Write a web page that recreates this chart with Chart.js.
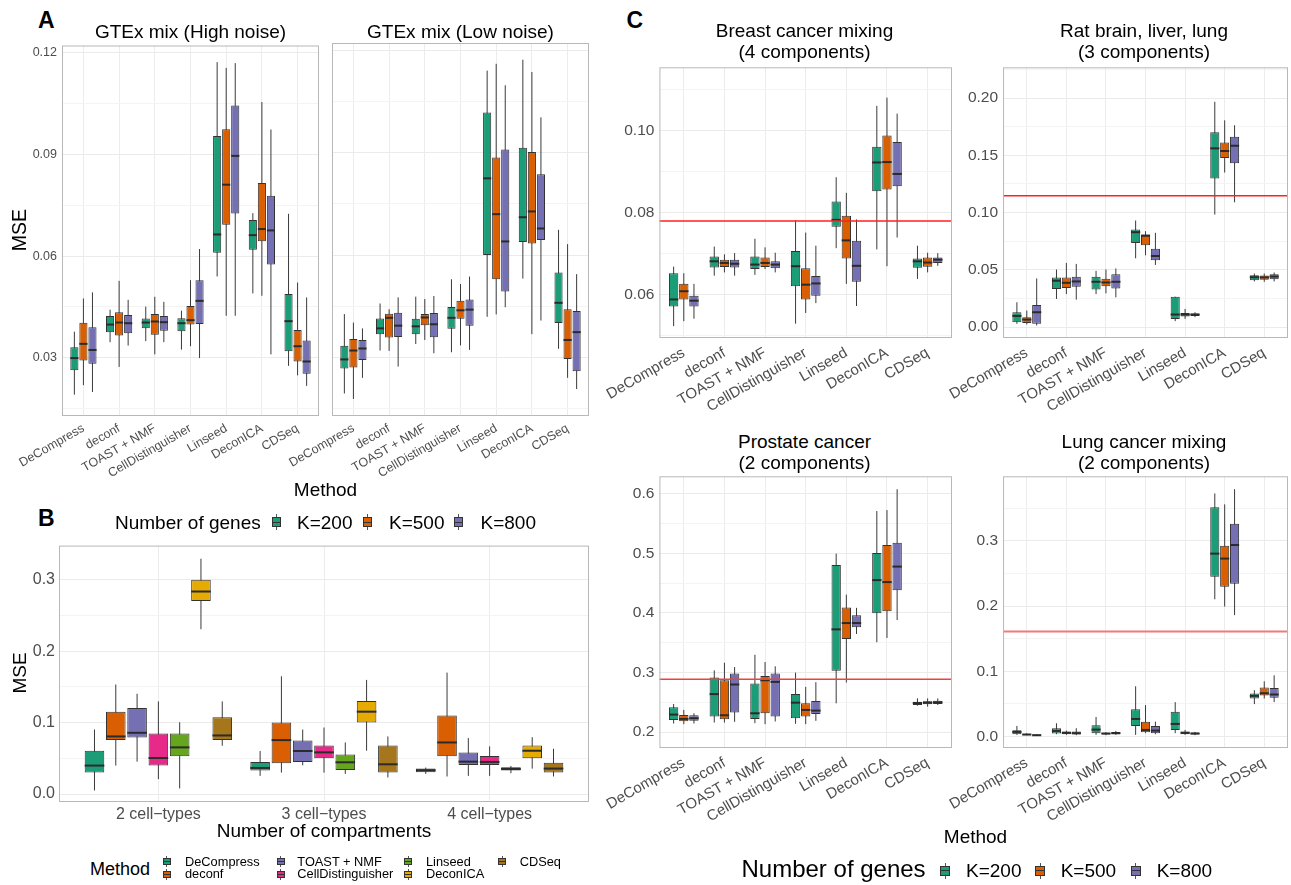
<!DOCTYPE html>
<html>
<head>
<meta charset="utf-8">
<script src="https://cdn.jsdelivr.net/npm/chart.js@4.4.1/dist/chart.umd.min.js"></script>
<style>
  body { margin:0; background:#fff; width:1291px; height:885px; position:relative; overflow:hidden;
         font-family:'Liberation Sans', Arial, sans-serif; }
  .t { position:absolute; white-space:nowrap; line-height:1; color:#000; }
  canvas { position:absolute; }
</style>
</head>
<body>
<script>
Chart.defaults.font.family = "'Liberation Sans', Arial, sans-serif";

// ---- categories / labels ----
var methods = ['DeCompress', 'deconf', 'TOAST + NMF', 'CellDistinguisher', 'Linseed', 'DeconICA', 'CDSeq'];
var geneSets = ['K=200', 'K=500', 'K=800'];
var compartments = ['2 cell\u2212types', '3 cell\u2212types', '4 cell\u2212types'];
var geneColors = ['#1B9E77', '#D95F02', '#7570B3'];
var methodColors = ['#1B9E77', '#D95F02', '#7570B3', '#E7298A', '#66A61E', '#E6AB02', '#A6761D'];

// each row: [lower whisker, Q1, median, Q3, upper whisker], one row per method
var gtexHigh200 = [[0.0191,0.0263,0.0299,0.0331,0.0377],[0.0346,0.0375,0.0398,0.0423,0.0442],[0.0349,0.0387,0.0404,0.0416,0.0451],
  [0.0324,0.0378,0.0402,0.0417,0.0439],[0.0540,0.0610,0.0664,0.0955,0.1173],[0.0490,0.0619,0.0662,0.0707,0.0727],[0.0276,0.0319,0.0408,0.0488,0.0725]];
var gtexHigh500 = [[0.0219,0.0292,0.0341,0.0403,0.0475],[0.0273,0.0366,0.0404,0.0434,0.0527],[0.0310,0.0368,0.0407,0.0429,0.0480],
  [0.0334,0.0398,0.0411,0.0453,0.0529],[0.0424,0.0693,0.0811,0.0975,0.1156],[0.0483,0.0644,0.0680,0.0816,0.1055],[0.0248,0.0289,0.0334,0.0382,0.0522]];
var gtexHigh800 = [[0.0199,0.0282,0.0323,0.0390,0.0493],[0.0336,0.0372,0.0402,0.0426,0.0471],[0.0346,0.0380,0.0405,0.0423,0.0465],
  [0.0299,0.0400,0.0468,0.0529,0.0621],[0.0424,0.0726,0.0896,0.1045,0.1170],[0.0310,0.0575,0.0676,0.0778,0.0974],[0.0217,0.0253,0.0289,0.0351,0.0478]];

var gtexLow200 = [[0.0194,0.0267,0.0294,0.0334,0.0427],[0.0320,0.0368,0.0385,0.0414,0.0458],[0.0339,0.0368,0.0391,0.0413,0.0478],
  [0.0315,0.0384,0.0416,0.0448,0.0529],[0.0419,0.0600,0.0825,0.1018,0.1141],[0.0531,0.0638,0.0711,0.0915,0.1173],[0.0325,0.0401,0.0460,0.0549,0.0674]];
var gtexLow500 = [[0.0178,0.0270,0.0320,0.0354,0.0402],[0.0319,0.0358,0.0416,0.0428,0.0441],[0.0351,0.0394,0.0417,0.0427,0.0471],
  [0.0335,0.0413,0.0438,0.0466,0.0515],[0.0426,0.0529,0.0720,0.0886,0.1161],[0.0368,0.0634,0.0728,0.0902,0.1137],[0.0240,0.0295,0.0351,0.0441,0.0632]];
var gtexLow800 = [[0.0240,0.0292,0.0326,0.0351,0.0385],[0.0273,0.0360,0.0393,0.0431,0.0476],[0.0312,0.0359,0.0397,0.0430,0.0480],
  [0.0322,0.0393,0.0440,0.0470,0.0537],[0.0447,0.0493,0.0640,0.0910,0.1098],[0.0408,0.0644,0.0678,0.0837,0.1004],[0.0207,0.0259,0.0374,0.0436,0.0544]];

// panel B: one row per compartment count
var cmpDeCompress = [[0.0051,0.0301,0.0399,0.0607,0.0904],[0.0255,0.0329,0.0366,0.0450,0.0603],[0.0283,0.0306,0.0334,0.0357,0.0371]];
var cmpDeconf     = [[0.0399,0.0756,0.0807,0.1154,0.1535],[0.0301,0.0431,0.0756,0.1001,0.1650],[0.0246,0.0529,0.0723,0.1099,0.1701]];
var cmpToast      = [[0.0454,0.0793,0.0858,0.1205,0.1405],[0.0403,0.0450,0.0603,0.0751,0.0904],[0.0255,0.0408,0.0454,0.0584,0.0784]];
var cmpCellDist   = [[0.0209,0.0399,0.0505,0.0848,0.1298],[0.0301,0.0501,0.0584,0.0682,0.0932],[0.0255,0.0408,0.0450,0.0533,0.0668]];
var cmpLinseed    = [[0.0079,0.0529,0.0654,0.0848,0.1006],[0.0283,0.0338,0.0445,0.0556,0.0723],[0.0292,0.0329,0.0352,0.0376,0.0394]];
var cmpDeconICA   = [[0.2309,0.2703,0.2837,0.3000,0.3296],[0.0607,0.1001,0.1154,0.1303,0.1599],[0.0357,0.0501,0.0607,0.0682,0.0797]];
var cmpCDSeq      = [[0.0677,0.0756,0.0821,0.1076,0.1298],[0.0232,0.0301,0.0417,0.0682,0.0807],[0.0246,0.0301,0.0357,0.0440,0.0635]];

var breast200 = [[0.0523,0.0571,0.0588,0.0652,0.0668],[0.0646,0.0666,0.0681,0.0693,0.0717],[0.0648,0.0662,0.0673,0.0693,0.0736],
  [0.0529,0.0620,0.0669,0.0706,0.0781],[0.0713,0.0765,0.0782,0.0827,0.0886],[0.0710,0.0852,0.0922,0.0960,0.1060],[0.0638,0.0665,0.0681,0.0688,0.0719]];
var breast500 = [[0.0535,0.0588,0.0608,0.0626,0.0652],[0.0654,0.0667,0.0677,0.0685,0.0698],[0.0662,0.0667,0.0677,0.0690,0.0715],
  [0.0555,0.0588,0.0624,0.0664,0.0751],[0.0626,0.0688,0.0732,0.0792,0.0848],[0.0669,0.0856,0.0923,0.0988,0.1080],[0.0654,0.0668,0.0678,0.0690,0.0702]];
var breast800 = [[0.0541,0.0571,0.0585,0.0597,0.0626],[0.0646,0.0666,0.0675,0.0685,0.0701],[0.0654,0.0664,0.0673,0.0681,0.0702],
  [0.0579,0.0597,0.0627,0.0645,0.0719],[0.0572,0.0631,0.0670,0.0731,0.0783],[0.0739,0.0864,0.0894,0.0972,0.1041],[0.0670,0.0677,0.0685,0.0690,0.0701]];

var rat200 = [[0.0029,0.0043,0.0098,0.0130,0.0217],[0.0246,0.0332,0.0405,0.0434,0.0503],[0.0289,0.0329,0.0396,0.0439,0.0491],
  [0.0601,0.0734,0.0829,0.0853,0.0931],[0.0052,0.0072,0.0110,0.0266,0.0266],[0.0983,0.1298,0.1561,0.1702,0.1968],[0.0399,0.0410,0.0436,0.0454,0.0468]];
var rat500 = [[0.0023,0.0035,0.0066,0.0087,0.0145],[0.0289,0.0341,0.0387,0.0434,0.0561],[0.0295,0.0358,0.0390,0.0422,0.0503],
  [0.0627,0.0714,0.0798,0.0809,0.0838],[0.0072,0.0092,0.0110,0.0124,0.0159],[0.1350,0.1477,0.1538,0.1613,0.1806],[0.0396,0.0413,0.0434,0.0451,0.0468]];
var rat800 = [[0.0014,0.0029,0.0130,0.0194,0.0425],[0.0240,0.0353,0.0399,0.0439,0.0552],[0.0260,0.0338,0.0396,0.0462,0.0512],
  [0.0543,0.0584,0.0621,0.0685,0.0824],[0.0087,0.0098,0.0110,0.0118,0.0130],[0.1090,0.1431,0.1584,0.1662,0.1763],[0.0399,0.0419,0.0442,0.0462,0.0477]];

var prostate200 = [[0.2144,0.2205,0.2294,0.2416,0.2472],[0.2161,0.2261,0.2638,0.2915,0.3037],[0.2150,0.2222,0.2316,0.2816,0.3298],
  [0.2139,0.2233,0.2494,0.2638,0.2999],[0.2483,0.3032,0.3725,0.4807,0.4996],[0.3509,0.3997,0.4552,0.5007,0.5712],[0.2444,0.2455,0.2488,0.2510,0.2566]];
var prostate500 = [[0.2133,0.2183,0.2222,0.2288,0.2372],[0.2161,0.2216,0.2283,0.2871,0.3165],[0.2133,0.2316,0.2871,0.2943,0.3176],
  [0.2133,0.2261,0.2372,0.2483,0.2760],[0.2832,0.3565,0.3831,0.4092,0.4308],[0.3581,0.4031,0.4519,0.5140,0.5728],[0.2427,0.2466,0.2494,0.2516,0.2566]];
var prostate800 = [[0.2144,0.2189,0.2233,0.2283,0.2316],[0.2172,0.2327,0.2799,0.2982,0.3093],[0.2178,0.2261,0.2843,0.2982,0.3104],
  [0.2189,0.2305,0.2361,0.2522,0.2838],[0.3648,0.3759,0.3831,0.3964,0.4086],[0.3881,0.4380,0.4779,0.5179,0.6078],[0.2455,0.2472,0.2499,0.2527,0.2566]];

var lung200 = [[0.0025,0.0035,0.0071,0.0096,0.0162],[0.0035,0.0046,0.0086,0.0127,0.0203],[0.0025,0.0051,0.0106,0.0172,0.0299],
  [0.0025,0.0162,0.0269,0.0416,0.0770],[0.0051,0.0101,0.0193,0.0380,0.0527],[0.2103,0.2448,0.2803,0.3512,0.3725],[0.0497,0.0583,0.0623,0.0659,0.0710]];
var lung500 = [[0.0020,0.0025,0.0030,0.0041,0.0051],[0.0025,0.0035,0.0056,0.0076,0.0091],[0.0020,0.0030,0.0046,0.0056,0.0066],
  [0.0051,0.0066,0.0101,0.0228,0.0481],[0.0025,0.0035,0.0056,0.0076,0.0101],[0.1992,0.2296,0.2727,0.2924,0.3558],[0.0583,0.0628,0.0663,0.0750,0.0846]];
var lung800 = [[0.0010,0.0015,0.0020,0.0030,0.0035],[0.0020,0.0030,0.0051,0.0076,0.0127],[0.0025,0.0035,0.0051,0.0071,0.0086],
  [0.0035,0.0051,0.0091,0.0162,0.0228],[0.0020,0.0030,0.0046,0.0061,0.0071],[0.1860,0.2342,0.2935,0.3259,0.3791],[0.0527,0.0593,0.0644,0.0745,0.0938]];

// random-guess reference lines (panel C)
var breastRef = 0.0779, ratRef = 0.1148, prostateRef = 0.2888, lungRef = 0.1608;

// y tick values
var gtexMajor = [0.03, 0.06, 0.09, 0.12], gtexMinor = [0.015, 0.045, 0.075, 0.105];
var cmpMajor = [0, 0.1, 0.2, 0.3], cmpMinor = [0.05, 0.15, 0.25];
var breastMajor = [0.06, 0.08, 0.10], breastMinor = [0.05, 0.07, 0.09, 0.11];
var ratMajor = [0, 0.05, 0.10, 0.15, 0.20], ratMinor = [0.025, 0.075, 0.125, 0.175, 0.225];
var prostateMajor = [0.2, 0.3, 0.4, 0.5, 0.6], prostateMinor = [0.25, 0.35, 0.45, 0.55];
var lungMajor = [0, 0.1, 0.2, 0.3], lungMinor = [0.05, 0.15, 0.25, 0.35];

// whiskers + medians + reference line + panel border
var boxWhiskers = {
  id: 'boxWhiskers',
  beforeDatasetsDraw: function(chart) {
    var ctx = chart.ctx, y = chart.scales.y;
    ctx.save();
    ctx.strokeStyle = '#3a3a3a';
    ctx.lineWidth = 1;
    chart.data.datasets.forEach(function(ds, i) {
      chart.getDatasetMeta(i).data.forEach(function(bar, j) {
        var s = ds.stats[j];
        ctx.beginPath();
        ctx.moveTo(bar.x, y.getPixelForValue(s[0]));
        ctx.lineTo(bar.x, y.getPixelForValue(s[4]));
        ctx.stroke();
      });
    });
    ctx.restore();
  },
  afterDatasetsDraw: function(chart, args, opts) {
    var ctx = chart.ctx, y = chart.scales.y, area = chart.chartArea;
    ctx.save();
    ctx.strokeStyle = '#2b2b2b';
    ctx.lineWidth = 2;
    chart.data.datasets.forEach(function(ds, i) {
      chart.getDatasetMeta(i).data.forEach(function(bar, j) {
        var ym = y.getPixelForValue(ds.stats[j][2]);
        ctx.beginPath();
        ctx.moveTo(bar.x - bar.width / 2, ym);
        ctx.lineTo(bar.x + bar.width / 2, ym);
        ctx.stroke();
      });
    });
    if (opts.ref != null) {
      var yr = y.getPixelForValue(opts.ref);
      ctx.strokeStyle = opts.refColor || '#ff2020';
      ctx.lineWidth = opts.refWidth || 1.5;
      ctx.beginPath();
      ctx.moveTo(area.left, yr);
      ctx.lineTo(area.right, yr);
      ctx.stroke();
    }
    ctx.strokeStyle = '#b8b8b8';
    ctx.lineWidth = 1;
    ctx.strokeRect(area.left + 0.5, area.top + 0.5, area.right - area.left - 1, area.bottom - area.top - 1);
    ctx.restore();
  }
};

function makePanel(p) {
  var w = p.rect[2] - p.rect[0] + p.pad[0] + p.pad[2];
  var h = p.rect[3] - p.rect[1] + p.pad[1] + p.pad[3];
  var cv = document.createElement('canvas');
  cv.width = w; cv.height = h;
  cv.style.left = (p.rect[0] - p.pad[0]) + 'px';
  cv.style.top = (p.rect[1] - p.pad[1]) + 'px';
  cv.style.width = w + 'px'; cv.style.height = h + 'px';
  document.body.appendChild(cv);

  var allTicks = p.major.concat(p.minor).sort(function(a, b) { return a - b; });
  var isMajor = function(v) { return p.major.some(function(m) { return Math.abs(m - v) < 1e-9; }); };

  return new Chart(cv, {
    type: 'bar',
    data: {
      labels: p.cats,
      datasets: p.series.map(function(s, i) {
        return {
          label: p.names[i],
          data: s.map(function(r) { return [r[1], r[3]]; }),
          stats: s,
          backgroundColor: p.colors[i],
          borderColor: '#333333',
          borderWidth: 1,
          borderSkipped: false,
          categoryPercentage: p.catPct,
          barPercentage: p.barPct
        };
      })
    },
    options: {
      responsive: false,
      animation: false,
      layout: { padding: { left: 0, top: p.pad[1], right: p.pad[2], bottom: 0 } },
      plugins: {
        legend: { display: false },
        tooltip: { enabled: false },
        boxWhiskers: { ref: p.ref, refColor: p.refColor, refWidth: p.refWidth }
      },
      scales: {
        x: {
          offset: true,
          grid: { color: '#ececec', lineWidth: 1, offset: false, drawTicks: false },
          border: { display: false },
          ticks: { autoSkip: false, maxRotation: p.rot, minRotation: p.rot, color: '#4d4d4d',
                   font: { size: p.xFont }, padding: p.xPad },
          afterBuildTicks: function(s) { s._startValue = -0.6; s._valueRange = p.cats.length + 0.2; },
          afterFit: function(s) { s.height = p.pad[3]; }
        },
        y: {
          min: p.yMin, max: p.yMax,
          grid: { drawTicks: false, lineWidth: 1,
                  color: function(c) { return c.tick && isMajor(c.tick.value) ? '#ebebeb' : '#f4f4f4'; } },
          border: { display: false },
          ticks: { display: p.showY, color: '#4d4d4d', font: { size: p.yFont }, padding: p.yPad,
                   callback: function(v) { return isMajor(v) ? v.toFixed(p.digits) : ''; } },
          afterBuildTicks: function(s) { s.ticks = allTicks.map(function(v) { return { value: v }; }); },
          afterFit: function(s) { s.width = p.pad[0]; }
        }
      }
    },
    plugins: [boxWhiskers]
  });
}

// ---- panel A ----
var aBase = { cats: methods, names: geneSets, colors: geneColors, catPct: 0.76, barPct: 0.9, rot: 30,
  xFont: 12.5, yFont: 12.5, xPad: 5, yPad: 5, yMin: 0.0128, yMax: 0.1222, major: gtexMajor, minor: gtexMinor, digits: 2 };
makePanel(Object.assign({}, aBase, { rect: [62, 43, 319, 416], pad: [62, 10, 4, 70], showY: true,
  series: [gtexHigh200, gtexHigh500, gtexHigh800] }));
makePanel(Object.assign({}, aBase, { rect: [332, 43, 589, 416], pad: [60, 10, 4, 70], showY: false,
  series: [gtexLow200, gtexLow500, gtexLow800] }));

// ---- panel B ----
makePanel({ cats: compartments, names: methods, colors: methodColors, catPct: 0.9, barPct: 0.92, rot: 0,
  xFont: 16, yFont: 16, xPad: 3, yPad: 4, yMin: -0.0111, yMax: 0.348, major: cmpMajor, minor: cmpMinor, digits: 1,
  rect: [59, 544, 589, 802], pad: [59, 12, 4, 30], showY: true,
  series: [cmpDeCompress, cmpDeconf, cmpToast, cmpCellDist, cmpLinseed, cmpDeconICA, cmpCDSeq] });

// ---- panel C ----
var cBase = { cats: methods, names: geneSets, colors: geneColors, catPct: 0.75, barPct: 0.92, rot: 30,
  xFont: 15, yFont: 15.5, xPad: 6, yPad: 5, showY: true };
makePanel(Object.assign({}, cBase, { rect: [657, 65, 952, 338], pad: [60, 12, 4, 90],
  yMin: 0.0494, yMax: 0.1154, major: breastMajor, minor: breastMinor, digits: 2, ref: breastRef,
  series: [breast200, breast500, breast800] }));
makePanel(Object.assign({}, cBase, { rect: [1000, 65, 1288, 338], pad: [60, 12, 3, 90],
  yMin: -0.0095, yMax: 0.2269, major: ratMajor, minor: ratMinor, digits: 2, ref: ratRef,
  series: [rat200, rat500, rat800] }));
makePanel(Object.assign({}, cBase, { rect: [657, 474, 952, 748], pad: [60, 12, 4, 90],
  yMin: 0.1733, yMax: 0.6295, major: prostateMajor, minor: prostateMinor, digits: 1, ref: prostateRef, refColor: '#f04040',
  series: [prostate200, prostate500, prostate800] }));
makePanel(Object.assign({}, cBase, { rect: [1000, 474, 1288, 748], pad: [60, 12, 3, 90],
  yMin: -0.0176, yMax: 0.3988, major: lungMajor, minor: lungMinor, digits: 1, ref: lungRef, refColor: '#f07a7a', refWidth: 2,
  series: [lung200, lung500, lung800] }));

// ---- text ----
function txt(s, x, base, size, align, weight) {
  var d = document.createElement('div');
  d.className = 't';
  d.textContent = s;
  d.style.fontSize = size + 'px';
  d.style.top = (base - 0.8465 * size) + 'px';
  d.style.left = x + 'px';
  if (align === 'center') d.style.transform = 'translateX(-50%)';
  if (weight) d.style.fontWeight = weight;
  document.body.appendChild(d);
}
function vtxt(s, cx, cy, size) {
  var d = document.createElement('div');
  d.className = 't';
  d.textContent = s;
  d.style.fontSize = size + 'px';
  d.style.left = cx + 'px';
  d.style.top = cy + 'px';
  d.style.transform = 'translate(-50%,-50%) rotate(-90deg)';
  document.body.appendChild(d);
}
function key(cx, cy, color, bw, bh, wh) {
  var k = document.createElement('div');
  k.style.cssText = 'position:absolute;left:' + (cx - bw / 2) + 'px;top:' + (cy - bh / 2 - wh) + 'px;width:' + bw + 'px;height:' + (bh + 2 * wh) + 'px;';
  k.innerHTML =
    '<div style="position:absolute;left:' + (bw / 2 - 0.5) + 'px;top:0;width:1px;height:' + (bh + 2 * wh) + 'px;background:#555"></div>' +
    '<div style="position:absolute;left:0;top:' + wh + 'px;width:' + (bw - 2) + 'px;height:' + (bh - 2) + 'px;background:' + color + ';border:1px solid #333"></div>' +
    '<div style="position:absolute;left:0;top:' + (wh + bh / 2 - 0.5) + 'px;width:' + bw + 'px;height:1px;background:#333"></div>';
  document.body.appendChild(k);
}

txt('A', 38, 28.3, 23, 'left', 'bold');
txt('B', 38, 526, 23, 'left', 'bold');
txt('C', 626.5, 28.3, 23, 'left', 'bold');

txt('GTEx mix (High noise)', 190.5, 38.3, 19, 'center');
txt('GTEx mix (Low noise)', 460.5, 38.3, 19, 'center');
vtxt('MSE', 19.5, 229.5, 19.5);
txt('Method', 325.5, 496, 19, 'center');

txt('Number of genes', 115, 529.3, 19);
key(276, 522, geneColors[0], 9, 10, 3);
txt(geneSets[0], 297, 529.3, 19);
key(367, 522, geneColors[1], 9, 10, 3);
txt(geneSets[1], 389, 529.3, 19);
key(458.5, 522, geneColors[2], 9, 10, 3);
txt(geneSets[2], 480.5, 529.3, 19);
vtxt('MSE', 19, 673, 19);
txt('Number of compartments', 324, 837.3, 19, 'center');

txt('Method', 90, 875, 18);
var legCols = [[166.5, 185], [280.5, 297.3], [408, 426], [502, 519.7]];
methods.forEach(function(m, i) {
  var col = legCols[Math.floor(i / 2)], row = i % 2;
  key(col[0], row ? 874.5 : 861.5, methodColors[i], 8, 7, 2);
  txt(m, col[1], row ? 879.3 : 866.7, 12.8);
});

txt('Breast cancer mixing', 804.5, 37, 19, 'center');
txt('(4 components)', 804.5, 58.3, 19, 'center');
txt('Rat brain, liver, lung', 1144, 37, 19, 'center');
txt('(3 components)', 1144, 58.3, 19, 'center');
txt('Prostate cancer', 804.5, 448.3, 19, 'center');
txt('(2 components)', 804.5, 469.3, 19, 'center');
txt('Lung cancer mixing', 1144, 448.3, 19, 'center');
txt('(2 components)', 1144, 469.3, 19, 'center');
txt('Method', 975.5, 843.3, 19, 'center');

txt('Number of genes', 741.5, 877, 24);
key(945, 870.5, geneColors[0], 10, 10, 3);
txt(geneSets[0], 966, 877, 19);
key(1040, 870.5, geneColors[1], 10, 10, 3);
txt(geneSets[1], 1060.7, 877, 19);
key(1135.5, 870.5, geneColors[2], 10, 10, 3);
txt(geneSets[2], 1156.7, 877, 19);
</script>
</body>
</html>
